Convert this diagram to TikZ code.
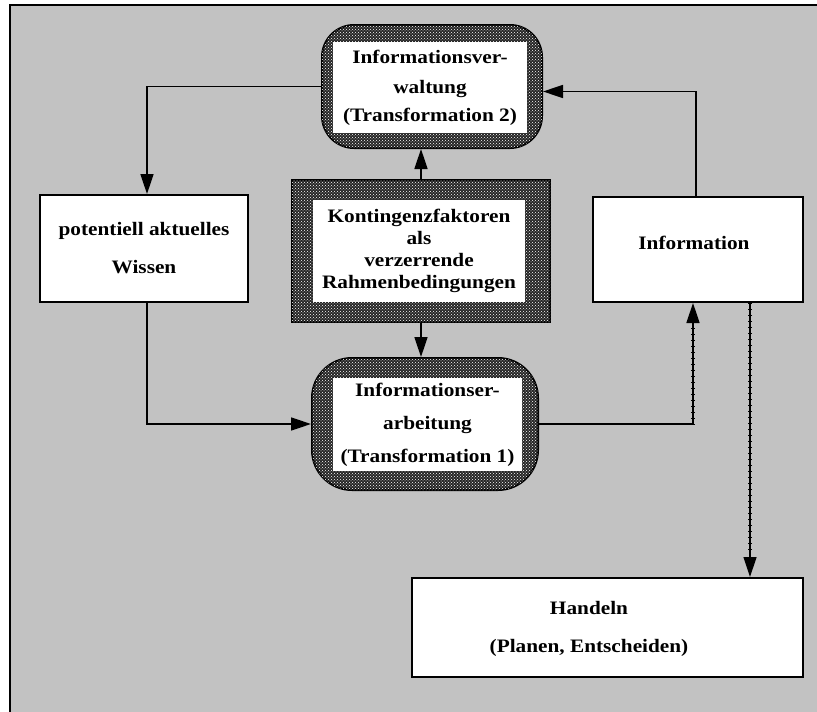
\documentclass[tikz,border=0pt]{standalone}
\usepackage{fontspec}
\setmainfont{Liberation Serif}[FakeStretch=1.12]
\usetikzlibrary{arrows.meta,patterns,decorations.pathreplacing}
\definecolor{bg}{gray}{0.76}
\tikzset{
  band/.style={draw=black, line width=2pt, fill=black!85, inner sep=0pt,
     postaction={pattern=crosshatch dots, pattern color=white}},
  innerbox/.style={fill=white, inner sep=0pt, align=center, font=\fontsize{19}{30}\selectfont\bfseries},
  plainbox/.style={draw=black, line width=2pt, fill=white, inner sep=0pt, align=center, font=\fontsize{19}{38}\selectfont\bfseries},
  txt/.style={inner sep=0pt, align=center, font=\fontsize{19}{38}\selectfont\bfseries},
  conn/.style={line width=1.6pt, -{Triangle[length=20pt,width=13pt]}},
  tickline/.style={line width=0.8pt, decorate, decoration={ticks, segment length=6pt, amplitude=2pt}}
}
\begin{document}
\begin{tikzpicture}[x=1pt,y=-1pt]
\useasboundingbox (0,0) rectangle (817,712);
% background
\fill[bg] (10,5) rectangle (817,712);
\draw[line width=1.5pt] (817,5) -- (10,5) -- (10,712);

% Transformation 2
\node[band, rounded corners=32pt, minimum width=220pt, minimum height=123pt] (T2) at (432,86.5) {};
\node[innerbox, minimum width=194pt, minimum height=91pt] (T2i) at (430,87.5)
  {Informationsver-\\waltung\\[-2pt](Transformation 2)};

% Kontingenzfaktoren
\node[band, minimum width=258pt, minimum height=142pt] (K) at (421,251) {};
\node[innerbox, font=\fontsize{19}{22}\selectfont\bfseries, minimum width=212pt, minimum height=102pt] (Ki) at (419,251)
  {Kontingenzfaktoren\\als\\verzerrende\\Rahmenbedingungen};

% Transformation 1
\node[band, rounded corners=40pt, minimum width=226pt, minimum height=132pt] (T1) at (425,424) {};
\node[innerbox, font=\fontsize{19}{33}\selectfont\bfseries, minimum width=189pt, minimum height=93pt] (T1i) at (427.5,424.5)
  {Informationser-\\arbeitung\\(Transformation 1)};

% Wissen
\node[plainbox, minimum width=208pt, minimum height=107pt] (W) at (144,248.5)
  {potentiell aktuelles\\Wissen};

% Information
\node[plainbox, minimum width=210pt, minimum height=105pt] (I) at (698,249.5) {};
\node[txt] (It) at (694,243) {Information};

% Handeln
\node[plainbox, minimum width=391pt, minimum height=99pt] (H) at (607.5,627.5) {};
\node[txt] (Ht) at (589,629) {Handeln\\(Planen, Entscheiden)};

% connectors
\draw[conn] (T2.west) -| ([xshift=3pt]W.north);
\draw[conn] ([xshift=-2pt]I.north) |- ([yshift=-5pt]T2.east);
\draw[conn] (K.north) -- (K.north |- T2.south);
\draw[conn] (K.south) -- (K.south |- T1.north);
\draw[conn] ([xshift=3pt]W.south) |- (T1.west);
\draw[conn] (T1.east) -| ([xshift=-5pt]I.south);
\coordinate (d1) at ([xshift=-5pt]I.south);
\coordinate (d0) at (d1 |- T1.east);
\draw[tickline] (d0) -- ([yshift=-24pt]d1);
\coordinate (e0) at ([xshift=52pt]I.south);
\coordinate (e1) at (e0 |- H.north);
\draw[conn, line width=1.2pt] (e0) -- (e1);
\draw[tickline] (e0) -- ([yshift=24pt]e1);
\end{tikzpicture}
\end{document}
